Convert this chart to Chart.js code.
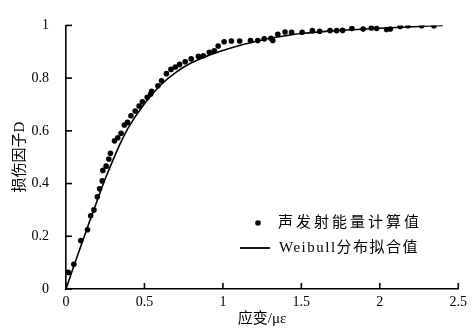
<!DOCTYPE html>
<html><head><meta charset="utf-8">
<script src="https://cdn.jsdelivr.net/npm/chart.js@4/dist/chart.umd.min.js"></script>
<style>html,body{margin:0;padding:0;background:#fff}#wrap{width:472px;height:332px}</style>
</head><body><div id="wrap"><canvas id="c" width="472" height="332"></canvas></div>
<script>
// Acoustic emission energy derived damage (points)
const aeStrain = [0.014,0.05,0.094,0.137,0.157,0.178,0.2,0.214,0.231,0.235,0.256,0.273,0.283,0.309,0.33,0.351,0.372,0.392,0.414,0.441,0.466,0.487,0.518,0.54,0.546,0.586,0.609,0.64,0.669,0.697,0.724,0.76,0.798,0.844,0.875,0.913,0.945,0.97,1.008,1.054,1.107,1.176,1.222,1.264,1.306,1.318,1.35,1.396,1.438,1.505,1.57,1.617,1.683,1.725,1.763,1.822,1.894,1.946,1.98,2.043,2.067,2.13,2.179,2.267,2.345,2.389];
const aeDamage = [0.063,0.094,0.184,0.225,0.278,0.30,0.35,0.38,0.41,0.45,0.466,0.493,0.515,0.562,0.574,0.591,0.622,0.632,0.657,0.675,0.694,0.71,0.727,0.74,0.75,0.771,0.79,0.817,0.833,0.842,0.852,0.862,0.873,0.883,0.885,0.898,0.904,0.922,0.938,0.941,0.941,0.943,0.943,0.949,0.951,0.943,0.966,0.975,0.974,0.974,0.98,0.978,0.98,0.98,0.981,0.988,0.986,0.99,0.988,0.984,0.986,0.996,0.999,0.999,0.999,1.008];
// Weibull fitted curve
const fitStrain = [0,0.05,0.1,0.15,0.2,0.25,0.3,0.35,0.4,0.5,0.6,0.7,0.8,0.9,1.0,1.1,1.2,1.3,1.4,1.5,1.75,2.0,2.25,2.4];
const fitDamage = [0,0.087,0.172,0.256,0.338,0.418,0.49,0.557,0.615,0.703,0.772,0.822,0.858,0.884,0.905,0.923,0.938,0.951,0.961,0.969,0.981,0.989,0.996,1.0];
const xTickLabels = ['0','0.5','1','1.5','2','2.5'];
const yTickLabels = ['0','0.2','0.4','0.6','0.8','1'];
const legendLabels = ['声发射能量计算值','Weibull分布拟合值'];
const xTitle = '应变/με';
const yTitle = '损伤因子D';

const serif = "'Liberation Serif','Noto Sans CJK SC',serif";

const inwardTicks = {
  id:'inwardTicks',
  afterDraw(chart){
    const ctx = chart.ctx, x = chart.scales.x, y = chart.scales.y, a = chart.chartArea;
    ctx.save();
    ctx.strokeStyle = '#000'; ctx.lineWidth = 1.6;
    x.ticks.forEach(t => { const px = x.getPixelForValue(t.value); ctx.beginPath(); ctx.moveTo(px, a.bottom); ctx.lineTo(px, a.bottom-6); ctx.stroke(); });
    y.ticks.forEach(t => { const py = y.getPixelForValue(t.value); ctx.beginPath(); ctx.moveTo(a.left, py); ctx.lineTo(a.left+6, py); ctx.stroke(); });
    // legend
    ctx.fillStyle = '#000';
    ctx.beginPath(); ctx.arc(258, 223, 2.8, 0, Math.PI*2); ctx.fill();
    ctx.lineWidth = 1.8;
    ctx.beginPath(); ctx.moveTo(240, 248); ctx.lineTo(270, 248); ctx.stroke();
    ctx.font = "15px " + serif; ctx.textBaseline = 'middle'; ctx.textAlign = 'left';
    ctx.letterSpacing = '3px';
    ctx.fillText(legendLabels[0], 278, 223);
    ctx.letterSpacing = '1.5px';
    ctx.fillText(legendLabels[1], 279, 248);
    ctx.restore();
  }
};

new Chart(document.getElementById('c'), {
  type:'scatter',
  data:{
    datasets:[
      {label:legendLabels[0], data: aeStrain.map((v,i)=>({x:v,y:aeDamage[i]})), pointRadius:2.8, pointBackgroundColor:'#000', pointBorderWidth:0, showLine:false, order:1},
      {label:legendLabels[1], data: fitStrain.map((v,i)=>({x:v,y:fitDamage[i]})), pointRadius:0, showLine:true, borderColor:'#000', borderWidth:1.6, cubicInterpolationMode:'monotone', order:2}
    ]
  },
  options:{
    responsive:false, animation:false,
    layout:{padding:{top:19,right:9,left:0,bottom:0}},
    plugins:{legend:{display:false}, tooltip:{enabled:false}},
    scales:{
      x:{type:'linear', min:0, max:2.5,
        afterBuildTicks(s){ s.ticks = xTickLabels.map(v=>({value:parseFloat(v)})); },
        afterFit(s){ s.height = 43; },
        grid:{display:false, drawTicks:false},
        border:{display:true, color:'#000', width:1.6},
        ticks:{color:'#000', padding:5, maxRotation:0, font:{family:serif, size:14}, callback:(v,i)=>xTickLabels[i]},
        title:{display:true, text:xTitle, color:'#000', font:{family:serif, size:15}, padding:{top:0,bottom:4}}
      },
      y:{type:'linear', min:0, max:1,
        afterBuildTicks(s){ s.ticks = yTickLabels.map(v=>({value:parseFloat(v)})); },
        afterFit(s){ s.width = 66; },
        grid:{display:false, drawTicks:false},
        border:{display:true, color:'#000', width:1.6},
        ticks:{color:'#000', padding:17, font:{family:serif, size:14}, callback:(v,i)=>yTickLabels[i]},
        title:{display:true, text:yTitle, color:'#000', font:{family:serif, size:15}, padding:{top:11,bottom:0}}
      }
    }
  },
  plugins:[inwardTicks]
});
</script></body></html>
